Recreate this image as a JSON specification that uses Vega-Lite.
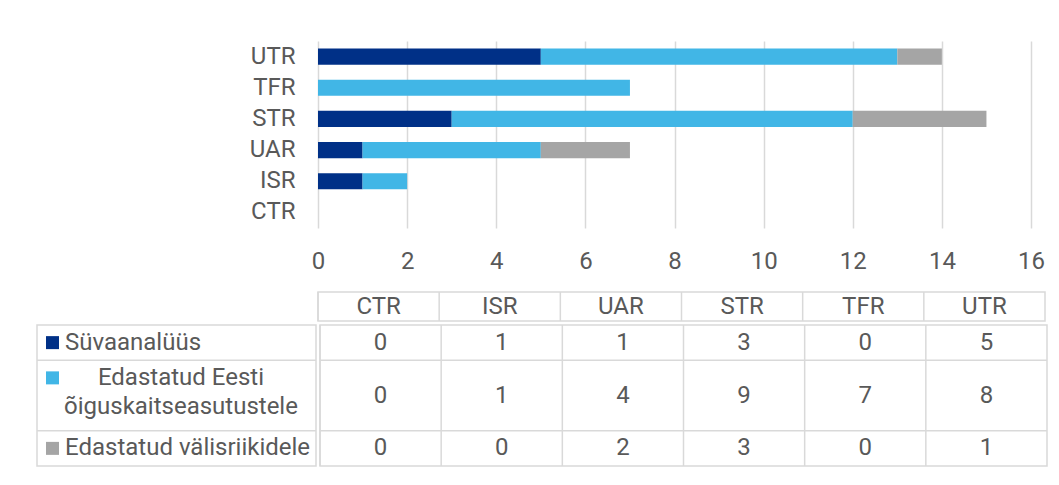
{
  "$schema": "https://vega.github.io/schema/vega-lite/v6.json",
  "background": "white",
  "padding": {"left": 35, "top": 41, "right": 10, "bottom": 10},
  "config": {
    "font": "Roboto",
    "view": {"stroke": null},
    "text": {"color": "#595959", "fontSize": 24, "font": "Roboto"}
  },
  "datasets": {
    "cells": [
      {"series": "Süvaanalüüs", "k": 1, "cat": "CTR", "value": 0},
      {"series": "Süvaanalüüs", "k": 1, "cat": "ISR", "value": 1},
      {"series": "Süvaanalüüs", "k": 1, "cat": "UAR", "value": 1},
      {"series": "Süvaanalüüs", "k": 1, "cat": "STR", "value": 3},
      {"series": "Süvaanalüüs", "k": 1, "cat": "TFR", "value": 0},
      {"series": "Süvaanalüüs", "k": 1, "cat": "UTR", "value": 5},
      {"series": "Edastatud Eesti õiguskaitseasutustele", "k": 2, "cat": "CTR", "value": 0},
      {"series": "Edastatud Eesti õiguskaitseasutustele", "k": 2, "cat": "ISR", "value": 1},
      {"series": "Edastatud Eesti õiguskaitseasutustele", "k": 2, "cat": "UAR", "value": 4},
      {"series": "Edastatud Eesti õiguskaitseasutustele", "k": 2, "cat": "STR", "value": 9},
      {"series": "Edastatud Eesti õiguskaitseasutustele", "k": 2, "cat": "TFR", "value": 7},
      {"series": "Edastatud Eesti õiguskaitseasutustele", "k": 2, "cat": "UTR", "value": 8},
      {"series": "Edastatud välisriikidele", "k": 3, "cat": "CTR", "value": 0},
      {"series": "Edastatud välisriikidele", "k": 3, "cat": "ISR", "value": 0},
      {"series": "Edastatud välisriikidele", "k": 3, "cat": "UAR", "value": 2},
      {"series": "Edastatud välisriikidele", "k": 3, "cat": "STR", "value": 3},
      {"series": "Edastatud välisriikidele", "k": 3, "cat": "TFR", "value": 0},
      {"series": "Edastatud välisriikidele", "k": 3, "cat": "UTR", "value": 1}
    ],
    "series": [
      {"series": "Süvaanalüüs", "k": 1, "label": "Süvaanalüüs"},
      {"series": "Edastatud Eesti õiguskaitseasutustele", "k": 2, "label": "Edastatud Eesti\nõiguskaitseasutustele"},
      {"series": "Edastatud välisriikidele", "k": 3, "label": "Edastatud välisriikidele"}
    ]
  },
  "spacing": 17,
  "vconcat": [
    {
      "spacing": 0,
      "hconcat": [
        {
          "width": 201,
          "height": 187,
          "data": {"values": [{"a": 1}]},
          "mark": {"type": "text", "text": ""}
        },
        {
          "width": 713,
          "height": 187,
          "data": {"name": "cells"},
          "mark": {"type": "bar"},
          "encoding": {
            "y": {
              "field": "cat", "type": "nominal",
              "scale": {"domain": ["UTR", "TFR", "STR", "UAR", "ISR", "CTR"], "paddingInner": 0.48, "paddingOuter": 0.24},
              "axis": {"title": null, "domain": false, "ticks": false, "labelPadding": 23, "labelFontSize": 24, "labelColor": "#595959", "labelFont": "Roboto", "minExtent": 80}
            },
            "x": {
              "field": "value", "type": "quantitative", "stack": "zero",
              "scale": {"domain": [0, 16], "nice": false},
              "axis": {"title": null, "values": [0, 2, 4, 6, 8, 10, 12, 14, 16], "domain": false, "ticks": false, "grid": true, "gridColor": "#d9d9d9", "gridWidth": 1.5, "labelPadding": 21, "labelFontSize": 24, "labelColor": "#595959", "labelFont": "Roboto", "labelFlush": false}
            },
            "color": {
              "field": "series", "type": "nominal",
              "scale": {"domain": ["Süvaanalüüs", "Edastatud Eesti õiguskaitseasutustele", "Edastatud välisriikidele"], "range": ["#003087", "#41b6e6", "#a5a5a5"]},
              "legend": null
            },
            "order": {"field": "k", "type": "quantitative"}
          }
        }
      ]
    },
    {
      "spacing": 0,
      "vconcat": [
        {
          "spacing": 0,
          "hconcat": [
            {
              "width": 279,
              "height": 29,
              "data": {"values": [{"a": 1}]},
              "mark": {"type": "text", "text": ""}
            },
            {
              "width": 727,
              "height": 29,
              "view": {"stroke": "#d9d9d9", "strokeWidth": 1.5},
              "data": {"name": "cells"},
              "transform": [{"filter": "datum.k == 1"}],
              "layer": [
                {
                  "mark": {"type": "rule", "color": "#d9d9d9", "strokeWidth": 1.5},
                  "encoding": {
                    "x": {"field": "cat", "type": "nominal", "bandPosition": 0, "scale": {"domain": ["CTR", "ISR", "UAR", "STR", "TFR", "UTR"], "paddingInner": 0, "paddingOuter": 0}, "axis": null}
                  }
                },
                {
                  "mark": {"type": "text", "fontSize": 24, "color": "#595959"},
                  "encoding": {
                    "x": {"field": "cat", "type": "nominal", "axis": null},
                    "text": {"field": "cat", "type": "nominal"}
                  }
                }
              ]
            }
          ]
        },
        {
          "spacing": 0,
          "hconcat": [
            {
              "width": 279,
              "height": 141,
              "view": {"stroke": "#d9d9d9", "strokeWidth": 1.5},
              "data": {"name": "series"},
              "encoding": {
                "y": {"field": "series", "type": "nominal", "scale": {"domain": ["Süvaanalüüs", "Edastatud Eesti õiguskaitseasutustele", " ", "Edastatud välisriikidele"], "paddingInner": 0, "paddingOuter": 0}, "axis": null}
              },
              "layer": [
                {
                  "transform": [{"filter": "datum.k > 1"}],
                  "mark": {"type": "rule", "color": "#d9d9d9", "strokeWidth": 1.5},
                  "encoding": {
                    "y": {"field": "series", "type": "nominal", "bandPosition": 0, "axis": null}
                  }
                },
                {
                  "mark": {"type": "point", "shape": "square", "filled": true, "size": 169, "opacity": 1},
                  "encoding": {
                    "x": {"datum": 0.0556, "type": "quantitative", "scale": {"domain": [0, 1]}, "axis": null},
                    "color": {
                      "field": "series", "type": "nominal",
                      "scale": {"domain": ["Süvaanalüüs", "Edastatud Eesti õiguskaitseasutustele", "Edastatud välisriikidele"], "range": ["#003087", "#41b6e6", "#a5a5a5"]},
                      "legend": null
                    }
                  }
                },
                {
                  "transform": [{"filter": "datum.k != 2"}],
                  "mark": {"type": "text", "align": "left", "fontSize": 24, "color": "#595959"},
                  "encoding": {
                    "x": {"datum": 0.1004, "type": "quantitative", "axis": null},
                    "text": {"field": "label", "type": "nominal"}
                  }
                },
                {
                  "transform": [{"filter": "datum.k == 2"}],
                  "mark": {"type": "text", "align": "center", "fontSize": 24, "color": "#595959", "lineBreak": "\n", "lineHeight": 29},
                  "encoding": {
                    "x": {"datum": 0.516, "type": "quantitative", "axis": null},
                    "text": {"field": "label", "type": "nominal"}
                  }
                }
              ]
            },
            {
              "width": 727,
              "height": 141,
              "view": {"stroke": "#d9d9d9", "strokeWidth": 1.5},
              "data": {"name": "cells"},
              "encoding": {
                "x": {"field": "cat", "type": "nominal", "scale": {"domain": ["CTR", "ISR", "UAR", "STR", "TFR", "UTR"], "paddingInner": 0, "paddingOuter": 0}, "axis": null},
                "y": {"field": "series", "type": "nominal", "scale": {"domain": ["Süvaanalüüs", "Edastatud Eesti õiguskaitseasutustele", " ", "Edastatud välisriikidele"], "paddingInner": 0, "paddingOuter": 0}, "axis": null}
              },
              "layer": [
                {
                  "transform": [{"filter": "datum.k == 1"}],
                  "mark": {"type": "rule", "color": "#d9d9d9", "strokeWidth": 1.5},
                  "encoding": {
                    "x": {"field": "cat", "type": "nominal", "bandPosition": 0, "axis": null},
                    "y": null
                  }
                },
                {
                  "transform": [{"filter": "datum.k > 1 && datum.cat == 'CTR'"}],
                  "mark": {"type": "rule", "color": "#d9d9d9", "strokeWidth": 1.5},
                  "encoding": {
                    "x": null,
                    "y": {"field": "series", "type": "nominal", "bandPosition": 0, "axis": null}
                  }
                },
                {
                  "transform": [{"filter": "datum.k != 2"}],
                  "mark": {"type": "text", "fontSize": 24, "color": "#595959"},
                  "encoding": {
                    "text": {"field": "value", "type": "quantitative"}
                  }
                },
                {
                  "transform": [{"filter": "datum.k == 2"}],
                  "mark": {"type": "text", "fontSize": 24, "color": "#595959"},
                  "encoding": {
                    "y": {"field": "series", "type": "nominal", "bandPosition": 1, "axis": null},
                    "text": {"field": "value", "type": "quantitative"}
                  }
                }
              ]
            }
          ]
        }
      ]
    }
  ]
}
